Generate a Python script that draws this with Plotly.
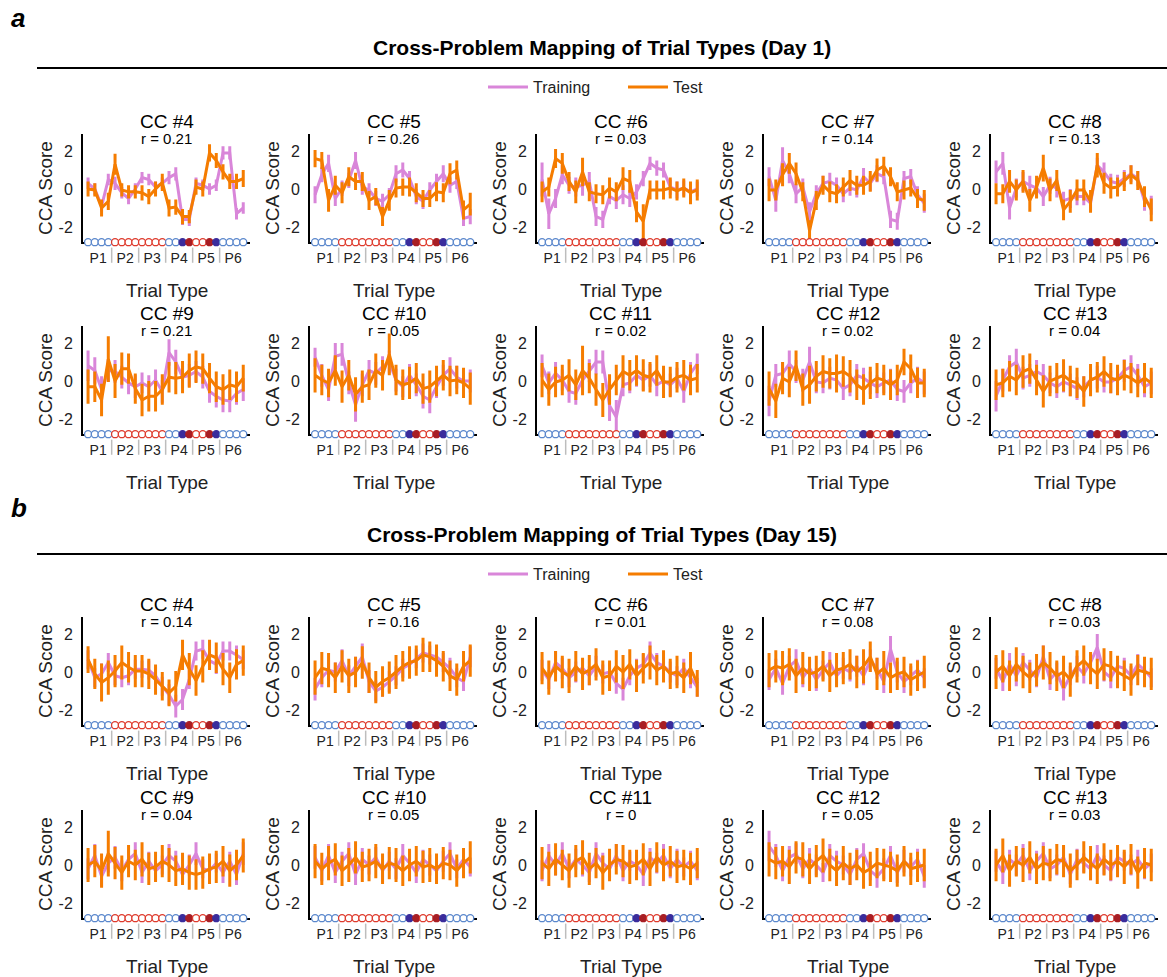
import plotly.graph_objects as go

# ---------------- data ----------------
TRIAL_POS = [1, 2, 3, 4, 5, 6, 7, 8, 9, 10, 11, 12, 13, 14, 15, 16, 17, 18, 19, 20, 21, 22, 23, 24]
TRIAL_KIND = ['bo', 'bo', 'bo', 'bo', 'ro', 'ro', 'ro', 'ro', 'ro', 'ro', 'ro', 'ro',
              'bo', 'bo', 'bf', 'rf', 'ro', 'ro', 'rf', 'bf', 'bo', 'bo', 'bo', 'bo']
PROBLEM_LABELS = ['P1', 'P2', 'P3', 'P4', 'P5', 'P6']
PROBLEM_SIZES = [4, 4, 4, 4, 4, 4]
Y_TICKS = [-2, 0, 2]
Y_TICK_TEXT = ['-2', '0', '2']
Y_RANGE = [-2.8, 2.9]
X_RANGE = [0.25, 25.0]

SECTION_LETTERS = ['a', 'b']
SECTION_TITLES = ['Cross-Problem Mapping of Trial Types (Day 1)',
                  'Cross-Problem Mapping of Trial Types (Day 15)']
CC_NUMBERS = [4, 5, 6, 7, 8, 9, 10, 11, 12, 13]
R_DAY1 = ['0.21', '0.26', '0.03', '0.14', '0.13', '0.21', '0.05', '0.02', '0.02', '0.04']
R_DAY15 = ['0.14', '0.16', '0.01', '0.08', '0.03', '0.04', '0.05', '0', '0.05', '0.03']

# Day 1
D1_CC4_TRAIN = [0.3, 0.0, -0.9, 0.5, 0.3, -0.2, -0.5, 0.0, 0.6, 0.5, 0.1, 0.3, 0.6, 0.8, -1.6, -1.6, 0.3, 0.2, 0.0, 0.2, 1.9, 1.9, -1.3, -1.0]
D1_CC4_TRAIN_ERR = [0.3, 0.3, 0.3, 0.3, 0.35, 0.3, 0.3, 0.3, 0.3, 0.3, 0.3, 0.3, 0.35, 0.35, 0.3, 0.35, 0.3, 0.3, 0.3, 0.3, 0.35, 0.35, 0.3, 0.3]
D1_CC4_TEST = [0.0, -0.05, -1.0, -0.65, 1.3, -0.05, -0.15, -0.15, -0.2, -0.4, 0.0, 0.35, -1.0, -0.95, -1.45, -1.45, 0.1, 0.0, 1.9, 1.5, 0.9, 0.4, 0.4, 0.55]
D1_CC4_TEST_ERR = [0.4, 0.35, 0.45, 0.45, 0.55, 0.35, 0.35, 0.35, 0.4, 0.4, 0.4, 0.45, 0.45, 0.4, 0.4, 0.35, 0.4, 0.4, 0.45, 0.4, 0.4, 0.4, 0.4, 0.45]

D1_CC5_TRAIN = [-0.3, 0.75, 1.35, -0.5, 0.05, 0.45, 1.5, 0.1, -0.05, -0.5, -0.65, -0.3, 0.8, 1.0, 0.55, -0.4, -0.65, -0.05, 0.4, 0.8, 0.2, 0.4, -1.55, -1.45]
D1_CC5_TRAIN_ERR = [0.45, 0.4, 0.45, 0.4, 0.4, 0.4, 0.45, 0.4, 0.35, 0.4, 0.4, 0.35, 0.45, 0.4, 0.4, 0.4, 0.4, 0.4, 0.4, 0.45, 0.4, 0.4, 0.4, 0.4]
D1_CC5_TEST = [1.6, 1.5, -0.6, 0.2, -0.2, 0.65, 0.4, 0.4, -0.6, -0.4, -1.45, -0.6, 0.05, 0.1, 0.1, -0.2, -0.5, -0.5, -0.15, -0.2, 0.8, 1.0, -1.1, -0.8]
D1_CC5_TEST_ERR = [0.45, 0.45, 0.6, 0.5, 0.55, 0.5, 0.45, 0.5, 0.5, 0.45, 0.5, 0.55, 0.5, 0.45, 0.5, 0.5, 0.45, 0.45, 0.5, 0.5, 0.55, 0.5, 0.5, 0.6]

D1_CC6_TRAIN = [0.5, -1.3, -0.5, 0.75, 0.2, 0.1, 0.2, 0.4, -1.45, -1.6, -0.4, -0.6, -0.3, -0.5, -0.15, 0.55, 1.35, 1.1, 1.0, 0.1, -0.05, 0.05, -0.15, 0.0]
D1_CC6_TRAIN_ERR = [0.9, 0.8, 0.5, 0.5, 0.45, 0.5, 0.55, 0.5, 0.5, 0.45, 0.4, 0.45, 0.5, 0.45, 0.4, 0.4, 0.35, 0.4, 0.4, 0.4, 0.45, 0.4, 0.45, 0.4]
D1_CC6_TEST = [-0.15, 0.1, 1.6, 1.35, 0.4, -0.15, 0.9, -0.15, -0.25, -0.3, 0.05, -0.15, 0.55, 0.4, -1.2, -1.7, -0.05, -0.05, -0.05, 0.05, -0.1, 0.05, -0.2, -0.05]
D1_CC6_TEST_ERR = [0.55, 0.5, 0.5, 0.55, 0.5, 0.6, 0.75, 0.5, 0.5, 0.5, 0.55, 0.5, 0.6, 0.6, 0.55, 0.9, 0.5, 0.5, 0.5, 0.55, 0.5, 0.5, 0.6, 0.55]

D1_CC7_TRAIN = [0.65, -0.6, 1.5, 0.8, -0.25, 0.1, -1.2, -0.25, 0.3, 0.4, 0.2, -0.25, 0.05, -0.05, 0.65, 0.3, 0.8, 0.65, -1.6, -1.7, 0.55, 0.65, -0.3, -0.75]
D1_CC7_TRAIN_ERR = [0.5, 0.6, 0.7, 0.5, 0.5, 0.45, 0.5, 0.45, 0.4, 0.45, 0.4, 0.45, 0.4, 0.4, 0.45, 0.4, 0.45, 0.4, 0.45, 0.45, 0.4, 0.4, 0.45, 0.5]
D1_CC7_TEST = [-0.05, -0.05, 0.75, 1.35, 0.8, -0.15, -2.2, -0.6, 0.2, -0.15, -0.25, 0.1, 0.45, 0.2, 0.2, 0.4, 1.0, 1.2, 0.65, -0.15, -0.05, 0.05, -0.5, -0.6]
D1_CC7_TEST_ERR = [0.6, 0.55, 0.6, 0.55, 0.6, 0.5, 0.55, 0.5, 0.5, 0.55, 0.5, 0.5, 0.55, 0.5, 0.5, 0.55, 0.6, 0.5, 0.5, 0.5, 0.5, 0.45, 0.5, 0.55]

D1_CC8_TRAIN = [0.9, 1.35, -1.0, 0.05, 0.4, 0.2, 0.05, -0.4, 0.2, 0.05, -0.6, -0.5, -0.4, -0.4, -0.75, 1.25, 0.9, 0.4, 0.3, 0.55, 0.8, 0.55, -0.65, -0.85]
D1_CC8_TRAIN_ERR = [0.6, 0.6, 0.6, 0.5, 0.5, 0.5, 0.5, 0.5, 0.45, 0.5, 0.45, 0.5, 0.45, 0.45, 0.45, 0.4, 0.5, 0.4, 0.45, 0.45, 0.45, 0.4, 0.5, 0.5]
D1_CC8_TEST = [-0.25, -0.25, 0.4, -0.05, 0.4, -0.6, 0.1, 1.1, -0.05, 0.45, -1.1, -0.65, -0.05, -0.05, -0.65, 1.25, 0.3, 0.05, 0.1, 0.4, 0.75, 0.45, -0.4, -1.1]
D1_CC8_TEST_ERR = [0.55, 0.5, 0.6, 0.55, 0.6, 0.6, 0.6, 0.7, 0.6, 0.55, 0.55, 0.6, 0.55, 0.55, 0.6, 0.65, 0.55, 0.55, 0.5, 0.5, 0.5, 0.5, 0.55, 0.6]

D1_CC9_TRAIN = [0.8, 0.55, -0.45, 0.55, 0.5, 0.2, -0.1, -0.3, -0.1, -0.3, 0.05, -0.55, 1.5, 1.0, 0.2, 0.3, 0.5, 0.2, -0.55, -0.8, -1.0, -1.05, -0.65, -0.45]
D1_CC9_TRAIN_ERR = [0.8, 0.7, 0.7, 0.6, 0.6, 0.6, 0.6, 0.6, 0.55, 0.6, 0.55, 0.6, 0.7, 0.65, 0.6, 0.6, 0.55, 0.6, 0.6, 0.6, 0.65, 0.6, 0.6, 0.6]
D1_CC9_TEST = [-0.3, -0.3, -1.0, 1.15, 0.0, 0.65, 0.65, -0.4, -1.0, -0.8, -0.8, -0.45, 0.2, 0.15, 0.2, 0.55, 0.75, 0.65, 0.15, -0.3, -0.45, -0.2, -0.3, 0.15]
D1_CC9_TEST_ERR = [0.9, 0.8, 0.85, 1.2, 0.9, 0.85, 0.8, 0.8, 0.85, 0.8, 0.8, 0.8, 0.8, 0.85, 0.85, 0.9, 0.85, 0.8, 0.8, 0.8, 0.8, 0.8, 0.8, 0.7]

D1_CC10_TRAIN = [1.25, 0.3, -0.45, 1.3, 1.4, -0.1, -1.25, -0.2, 0.55, 0.4, 0.75, 1.0, 0.05, -0.3, 0.3, -0.2, -0.8, -1.0, -0.3, 0.3, 0.65, 0.2, 0.0, 0.0]
D1_CC10_TRAIN_ERR = [0.5, 0.6, 0.6, 0.7, 0.6, 0.6, 0.9, 0.6, 0.55, 0.6, 0.55, 0.6, 0.6, 0.55, 0.6, 0.6, 0.65, 0.7, 0.6, 0.55, 0.6, 0.6, 0.55, 0.6]
D1_CC10_TEST = [0.3, 0.05, -0.1, 0.55, -0.3, 0.3, -0.7, -0.3, -0.2, 0.55, 0.3, 1.4, 0.05, -0.2, -0.1, 0.15, -0.4, -0.3, 0.0, 0.3, 0.0, 0.05, -0.1, -0.4]
D1_CC10_TEST_ERR = [0.9, 0.8, 0.75, 0.8, 0.85, 0.8, 0.9, 0.85, 0.8, 0.9, 0.8, 1.1, 0.8, 0.8, 0.85, 0.8, 0.8, 0.85, 0.8, 0.8, 0.8, 0.75, 0.8, 0.85]

D1_CC11_TRAIN = [0.8, -0.1, 0.4, 0.05, -0.55, -0.65, 0.05, 0.55, 1.0, 1.0, -1.3, -1.9, -0.2, -0.1, 0.3, 0.05, 0.3, -0.2, 0.0, -0.2, 0.15, -0.55, 0.4, 0.9]
D1_CC11_TRAIN_ERR = [0.6, 0.6, 0.6, 0.55, 0.6, 0.6, 0.55, 0.6, 0.65, 0.6, 0.8, 0.9, 0.6, 0.55, 0.6, 0.55, 0.6, 0.6, 0.55, 0.6, 0.55, 0.6, 0.6, 0.55]
D1_CC11_TEST = [0.05, -0.45, -0.05, 0.05, 0.3, -0.2, 0.55, 0.15, -0.45, -1.0, -0.45, 0.05, 0.5, 0.3, 0.55, 0.3, 0.2, 0.55, -0.05, -0.05, 0.2, 0.3, 0.05, 0.15]
D1_CC11_TEST_ERR = [0.9, 0.85, 0.8, 0.8, 0.85, 0.8, 1.3, 0.8, 0.85, 0.9, 0.8, 0.8, 0.85, 0.8, 0.8, 0.85, 0.8, 0.8, 0.85, 0.8, 0.8, 0.8, 0.8, 0.75]

D1_CC12_TRAIN = [-1.05, 0.3, 0.4, 0.9, 0.5, 0.05, 1.0, -0.05, -0.1, 0.15, 0.05, -0.4, -0.2, 0.3, 0.15, -0.1, -0.3, -0.1, 0.05, -0.45, -0.55, -0.1, 0.15, -0.1]
D1_CC12_TRAIN_ERR = [0.8, 0.6, 0.6, 0.7, 0.6, 0.6, 0.8, 0.6, 0.55, 0.6, 0.55, 0.6, 0.6, 0.6, 0.55, 0.6, 0.6, 0.55, 0.6, 0.6, 0.6, 0.55, 0.6, 0.6]
D1_CC12_TEST = [-0.4, -1.05, 0.15, -0.05, 0.8, -0.45, -0.2, 0.25, 0.5, 0.4, 0.4, 0.5, 0.25, -0.2, -0.45, -0.1, 0.15, 0.05, -0.2, 0.05, 1.0, 0.65, -0.1, -0.1]
D1_CC12_TEST_ERR = [0.9, 0.9, 0.85, 0.8, 0.8, 0.85, 1.0, 0.8, 0.85, 0.8, 1.0, 0.8, 0.85, 0.8, 0.8, 0.85, 0.8, 0.8, 0.8, 0.8, 0.7, 0.75, 0.8, 0.75]

D1_CC13_TRAIN = [-0.8, 0.05, 0.75, 1.0, 0.15, 0.3, 0.5, 0.3, -0.1, -0.3, -0.05, -0.2, -0.4, -0.3, 0.05, 0.2, -0.05, -0.05, 0.15, 0.55, 0.75, 0.3, -0.3, -0.1]
D1_CC13_TRAIN_ERR = [0.8, 0.6, 0.6, 0.7, 0.6, 0.6, 0.6, 0.6, 0.55, 0.6, 0.55, 0.6, 0.6, 0.55, 0.6, 0.6, 0.55, 0.6, 0.6, 0.6, 0.6, 0.6, 0.55, 0.6]
D1_CC13_TEST = [-0.2, -0.1, 0.25, 0.05, 0.5, 0.65, 0.05, -0.55, 0.0, 0.15, 0.3, 0.0, -0.1, -0.55, 0.05, 0.2, 0.5, 0.15, 0.05, 0.3, 0.15, -0.1, 0.15, -0.1]
D1_CC13_TEST_ERR = [0.8, 0.75, 0.8, 0.8, 0.85, 0.8, 0.8, 0.85, 0.8, 0.8, 0.85, 0.8, 0.8, 0.8, 0.85, 0.8, 0.8, 0.8, 0.8, 0.8, 0.8, 0.75, 0.8, 0.8]

# Day 15
D15_CC4_TRAIN = [0.65, -0.3, -0.1, 0.5, -0.2, -0.3, -0.2, 0.15, 0.15, 0.1, -0.2, -0.75, -1.2, -1.8, -1.45, -0.4, 1.1, 1.2, 0.6, 0.4, 1.1, 1.1, 0.9, 0.65]
D15_CC4_TRAIN_ERR = [0.5, 0.5, 0.55, 0.5, 0.5, 0.5, 0.5, 0.5, 0.45, 0.5, 0.5, 0.5, 0.55, 0.6, 0.55, 0.5, 0.5, 0.5, 0.5, 0.5, 0.5, 0.5, 0.5, 0.5]
D15_CC4_TEST = [0.65, -0.1, -0.55, -0.3, 0.05, 0.5, 0.25, 0.05, 0.05, -0.1, -0.4, -0.75, -1.1, -0.75, 0.9, 0.15, -0.45, 0.3, 0.9, 0.75, 0.15, -0.3, 0.4, 0.6]
D15_CC4_TEST_ERR = [0.7, 0.8, 1.0, 0.9, 0.85, 0.9, 0.8, 0.85, 0.85, 0.8, 0.8, 0.75, 0.7, 0.8, 0.8, 0.85, 0.8, 0.85, 0.8, 0.8, 0.85, 0.8, 0.8, 0.8]

D15_CC5_TRAIN = [-0.9, -0.3, 0.1, 0.0, 0.6, -0.2, 0.3, 0.8, -0.5, -1.0, -0.8, -0.5, -0.2, 0.2, 0.4, 0.7, 1.0, 0.9, 0.8, 0.5, 0.2, -0.3, -0.5, 0.8]
D15_CC5_TRAIN_ERR = [0.6, 0.5, 0.55, 0.5, 0.6, 0.55, 0.5, 0.7, 0.6, 0.55, 0.5, 0.55, 0.5, 0.5, 0.55, 0.5, 0.5, 0.5, 0.55, 0.5, 0.55, 0.5, 0.5, 0.55]
D15_CC5_TEST = [-0.3, 0.2, 0.1, -0.3, 0.3, -0.2, 0.0, 0.5, -0.3, -0.8, -0.5, -0.3, 0.0, 0.3, 0.5, 0.6, 0.9, 0.8, 0.6, 0.3, -0.2, -0.4, 0.3, 0.6]
D15_CC5_TEST_ERR = [0.9, 0.85, 0.9, 0.8, 0.85, 0.9, 0.8, 0.85, 0.8, 0.85, 0.8, 0.85, 0.9, 0.8, 0.85, 0.8, 0.9, 0.8, 0.85, 0.8, 0.8, 0.85, 0.8, 0.85]

D15_CC6_TRAIN = [0.1, -0.4, 0.5, 0.2, -0.3, 0.0, 0.2, -0.2, 0.3, -0.1, 0.0, -0.6, -0.9, -0.2, 0.2, 0.4, 1.0, 0.5, 0.3, 0.0, -0.2, 0.2, -0.3, -0.8]
D15_CC6_TRAIN_ERR = [0.55, 0.5, 0.6, 0.55, 0.5, 0.55, 0.5, 0.5, 0.55, 0.5, 0.5, 0.55, 0.6, 0.5, 0.5, 0.55, 0.6, 0.5, 0.5, 0.55, 0.5, 0.5, 0.55, 0.5]
D15_CC6_TEST = [0.2, -0.3, 0.3, 0.0, -0.2, 0.3, -0.1, 0.1, 0.4, -0.3, -0.2, 0.3, 0.0, 0.4, -0.2, 0.2, 0.5, 0.1, 0.3, -0.1, 0.0, -0.3, 0.2, -0.6]
D15_CC6_TEST_ERR = [0.85, 0.9, 0.8, 0.85, 0.9, 0.8, 0.85, 0.8, 0.85, 0.9, 0.8, 0.85, 0.9, 0.8, 0.85, 0.8, 0.9, 0.8, 0.85, 0.8, 0.85, 0.8, 0.85, 0.7]

D15_CC7_TRAIN = [-0.4, 0.2, -0.6, 0.3, 0.6, -0.3, 0.2, -0.4, 0.1, 0.5, -0.2, 0.2, 0.0, 0.3, -0.2, 0.6, 0.2, -0.5, 1.2, 0.0, -0.5, -0.2, 0.1, -0.3]
D15_CC7_TRAIN_ERR = [0.55, 0.5, 0.6, 0.55, 0.6, 0.5, 0.55, 0.6, 0.5, 0.55, 0.5, 0.55, 0.5, 0.55, 0.5, 0.6, 0.55, 0.6, 0.7, 0.55, 0.6, 0.5, 0.55, 0.5]
D15_CC7_TEST = [0.1, 0.3, 0.2, 0.4, -0.2, 0.2, -0.1, 0.0, 0.3, -0.2, 0.1, 0.2, 0.4, 0.0, 0.3, 0.8, -0.1, 0.2, -0.3, -0.1, 0.0, -0.4, -0.2, 0.0]
D15_CC7_TEST_ERR = [0.9, 0.85, 0.9, 0.85, 0.9, 0.85, 0.9, 0.85, 0.8, 0.85, 0.9, 0.85, 0.8, 0.85, 0.9, 0.8, 0.85, 0.9, 0.8, 0.85, 0.8, 0.85, 0.8, 0.85]

D15_CC8_TRAIN = [0.2, -0.5, 0.4, -0.2, 0.5, 0.1, -0.3, 0.8, -0.4, 0.0, -0.9, -0.2, 0.3, -0.1, 0.5, 1.3, 0.0, -0.3, 0.3, 0.2, -0.2, 0.4, 0.1, -0.3]
D15_CC8_TRAIN_ERR = [0.55, 0.5, 0.6, 0.55, 0.5, 0.55, 0.5, 0.6, 0.55, 0.5, 0.6, 0.5, 0.55, 0.5, 0.55, 0.7, 0.5, 0.55, 0.5, 0.55, 0.5, 0.55, 0.5, 0.5]
D15_CC8_TEST = [0.0, 0.3, -0.2, 0.4, 0.0, -0.3, 0.1, 0.5, 0.2, -0.2, 0.0, -0.4, 0.3, 0.6, 0.2, -0.1, 0.4, 0.3, 0.0, -0.2, -0.4, 0.1, 0.0, -0.1]
D15_CC8_TEST_ERR = [0.9, 0.85, 0.8, 0.9, 0.85, 0.8, 0.85, 0.9, 0.85, 0.8, 0.85, 0.9, 0.85, 0.8, 0.85, 0.8, 0.85, 0.8, 0.85, 0.8, 0.85, 0.8, 0.8, 0.85]

D15_CC9_TRAIN = [-0.2, 0.5, -0.6, 0.1, 0.4, -0.3, 0.3, 0.6, -0.4, 0.2, -0.3, 0.0, 0.5, 0.2, -0.5, 0.0, 0.6, -0.2, -0.3, 0.1, -0.4, 0.2, -0.5, 0.6]
D15_CC9_TRAIN_ERR = [0.55, 0.6, 0.55, 0.5, 0.6, 0.55, 0.5, 0.6, 0.55, 0.5, 0.55, 0.5, 0.6, 0.55, 0.5, 0.55, 0.6, 0.5, 0.55, 0.5, 0.55, 0.5, 0.55, 0.6]
D15_CC9_TEST = [0.0, 0.2, -0.3, 0.6, 0.1, -0.4, 0.2, 0.0, 0.3, -0.2, -0.1, 0.2, 0.0, -0.3, -0.2, -0.4, -0.5, -0.4, -0.2, -0.1, 0.2, -0.3, 0.0, 0.5]
D15_CC9_TEST_ERR = [0.9, 0.85, 0.9, 1.2, 0.85, 0.9, 0.85, 0.8, 0.9, 0.85, 0.8, 0.85, 0.9, 0.8, 0.85, 0.9, 0.8, 0.85, 0.8, 0.85, 0.8, 0.85, 0.8, 0.9]

D15_CC10_TRAIN = [0.4, -0.3, 0.5, -0.4, 0.2, 0.6, -0.5, 0.3, 0.0, 0.4, -0.3, 0.2, -0.2, 0.5, 0.1, -0.4, 0.3, 0.0, -0.3, 0.2, 0.6, -0.2, 0.3, -0.1]
D15_CC10_TRAIN_ERR = [0.6, 0.55, 0.6, 0.55, 0.5, 0.6, 0.55, 0.6, 0.5, 0.55, 0.6, 0.5, 0.55, 0.6, 0.5, 0.55, 0.5, 0.55, 0.5, 0.55, 0.6, 0.5, 0.55, 0.5]
D15_CC10_TEST = [0.2, -0.2, 0.1, 0.3, -0.3, 0.0, 0.4, -0.1, 0.0, 0.2, -0.2, 0.1, 0.0, -0.3, 0.0, 0.2, -0.1, 0.0, -0.2, 0.1, 0.0, -0.3, 0.1, 0.4]
D15_CC10_TEST_ERR = [0.9, 0.85, 0.9, 0.85, 0.8, 0.9, 0.85, 0.8, 0.85, 0.9, 0.8, 0.85, 0.9, 0.8, 0.85, 0.8, 0.85, 0.9, 0.8, 0.85, 0.8, 0.85, 0.8, 0.85]

D15_CC11_TRAIN = [-0.3, 0.5, 0.0, 0.6, -0.2, 0.3, 0.0, -0.4, 0.6, 0.1, -0.2, 0.5, -0.3, 0.2, 0.0, -0.5, 0.4, 0.1, 0.5, -0.2, 0.3, -0.1, 0.2, -0.3]
D15_CC11_TRAIN_ERR = [0.55, 0.6, 0.55, 0.6, 0.5, 0.55, 0.6, 0.5, 0.6, 0.55, 0.5, 0.6, 0.55, 0.5, 0.55, 0.6, 0.5, 0.55, 0.6, 0.5, 0.55, 0.5, 0.55, 0.5]
D15_CC11_TEST = [0.1, -0.2, 0.3, 0.0, -0.3, 0.2, 0.4, -0.2, 0.1, -0.4, 0.0, 0.3, 0.2, -0.1, 0.0, 0.3, -0.2, 0.4, 0.0, 0.2, -0.1, 0.0, -0.2, 0.1]
D15_CC11_TEST_ERR = [0.85, 0.9, 0.85, 0.8, 0.9, 0.85, 0.9, 0.85, 0.8, 0.9, 0.85, 0.8, 0.85, 0.9, 0.8, 0.85, 0.9, 0.8, 0.85, 0.8, 0.85, 0.8, 0.85, 0.8]

D15_CC12_TRAIN = [1.0, 0.5, -0.3, 0.4, 0.6, -0.2, 0.3, 0.0, -0.4, 0.5, 0.2, 0.0, -0.5, 0.3, 0.6, -0.3, -0.6, -0.2, 0.5, -0.4, 0.2, -0.1, 0.3, -0.6]
D15_CC12_TRAIN_ERR = [0.8, 0.6, 0.55, 0.6, 0.55, 0.5, 0.6, 0.55, 0.5, 0.6, 0.55, 0.5, 0.55, 0.6, 0.55, 0.5, 0.6, 0.55, 0.5, 0.55, 0.6, 0.5, 0.55, 0.6]
D15_CC12_TEST = [0.3, 0.1, 0.2, -0.1, 0.4, 0.3, -0.2, 0.2, 0.5, 0.0, -0.3, 0.1, -0.2, 0.0, -0.4, -0.2, 0.1, 0.0, -0.1, -0.3, 0.2, -0.2, -0.1, 0.0]
D15_CC12_TEST_ERR = [0.9, 0.85, 0.8, 0.9, 0.85, 0.9, 0.8, 0.85, 0.9, 0.85, 0.8, 0.9, 0.85, 0.8, 0.85, 0.9, 0.8, 0.85, 0.8, 0.85, 0.8, 0.85, 0.8, 0.85]

D15_CC13_TRAIN = [0.2, -0.4, 0.3, 0.0, 0.5, -0.3, 0.2, 0.6, -0.2, 0.0, 0.4, -0.5, 0.3, 0.1, -0.2, 0.5, 0.0, -0.3, 0.4, 0.2, 0.0, 0.3, -0.2, 0.1]
D15_CC13_TRAIN_ERR = [0.55, 0.6, 0.5, 0.55, 0.6, 0.5, 0.55, 0.6, 0.5, 0.55, 0.6, 0.5, 0.55, 0.5, 0.6, 0.55, 0.5, 0.55, 0.6, 0.5, 0.55, 0.5, 0.55, 0.5]
D15_CC13_TEST = [0.0, 0.5, -0.3, 0.2, 0.0, 0.4, -0.2, 0.1, 0.0, 0.3, 0.2, -0.3, 0.0, 0.4, 0.1, -0.2, 0.3, 0.0, 0.2, -0.1, 0.3, -0.4, 0.1, 0.0]
D15_CC13_TEST_ERR = [0.85, 0.9, 0.85, 0.8, 0.9, 0.85, 0.8, 0.9, 0.85, 0.8, 0.85, 0.9, 0.8, 0.85, 0.9, 0.8, 0.85, 0.8, 0.85, 0.9, 0.8, 0.85, 0.8, 0.85]

# ---------------- style / layout ----------------
W, H = 1167, 977
FONT = 'Liberation Sans, Arial, Helvetica, sans-serif'
TRAIN_COLOR = '#D986D9'
TEST_COLOR = '#F57C00'
KIND_COLOR = {'bo': '#5A87CC', 'ro': '#DE3A2C', 'bf': '#3A2C9C', 'rf': '#A81E24'}
KIND_FILL = {'bo': 'white', 'ro': 'white', 'bf': '#3A2C9C', 'rf': '#A81E24'}
COL_LEFT_PX = [83, 310, 537, 764, 991]
AXIS_W_PX = 167
ROW_ZERO_PX = [[189, 381], [672, 865]]
PPU = 19.0
SECTION_TITLE_PX = [47, 534]
SECTION_LINE_PX = [68, 554]
LEGEND_PX = [87, 574]
LETTER_PX = [18, 508]

SECTIONS = [
    [(D1_CC4_TRAIN, D1_CC4_TRAIN_ERR, D1_CC4_TEST, D1_CC4_TEST_ERR),
     (D1_CC5_TRAIN, D1_CC5_TRAIN_ERR, D1_CC5_TEST, D1_CC5_TEST_ERR),
     (D1_CC6_TRAIN, D1_CC6_TRAIN_ERR, D1_CC6_TEST, D1_CC6_TEST_ERR),
     (D1_CC7_TRAIN, D1_CC7_TRAIN_ERR, D1_CC7_TEST, D1_CC7_TEST_ERR),
     (D1_CC8_TRAIN, D1_CC8_TRAIN_ERR, D1_CC8_TEST, D1_CC8_TEST_ERR),
     (D1_CC9_TRAIN, D1_CC9_TRAIN_ERR, D1_CC9_TEST, D1_CC9_TEST_ERR),
     (D1_CC10_TRAIN, D1_CC10_TRAIN_ERR, D1_CC10_TEST, D1_CC10_TEST_ERR),
     (D1_CC11_TRAIN, D1_CC11_TRAIN_ERR, D1_CC11_TEST, D1_CC11_TEST_ERR),
     (D1_CC12_TRAIN, D1_CC12_TRAIN_ERR, D1_CC12_TEST, D1_CC12_TEST_ERR),
     (D1_CC13_TRAIN, D1_CC13_TRAIN_ERR, D1_CC13_TEST, D1_CC13_TEST_ERR)],
    [(D15_CC4_TRAIN, D15_CC4_TRAIN_ERR, D15_CC4_TEST, D15_CC4_TEST_ERR),
     (D15_CC5_TRAIN, D15_CC5_TRAIN_ERR, D15_CC5_TEST, D15_CC5_TEST_ERR),
     (D15_CC6_TRAIN, D15_CC6_TRAIN_ERR, D15_CC6_TEST, D15_CC6_TEST_ERR),
     (D15_CC7_TRAIN, D15_CC7_TRAIN_ERR, D15_CC7_TEST, D15_CC7_TEST_ERR),
     (D15_CC8_TRAIN, D15_CC8_TRAIN_ERR, D15_CC8_TEST, D15_CC8_TEST_ERR),
     (D15_CC9_TRAIN, D15_CC9_TRAIN_ERR, D15_CC9_TEST, D15_CC9_TEST_ERR),
     (D15_CC10_TRAIN, D15_CC10_TRAIN_ERR, D15_CC10_TEST, D15_CC10_TEST_ERR),
     (D15_CC11_TRAIN, D15_CC11_TRAIN_ERR, D15_CC11_TEST, D15_CC11_TEST_ERR),
     (D15_CC12_TRAIN, D15_CC12_TRAIN_ERR, D15_CC12_TEST, D15_CC12_TEST_ERR),
     (D15_CC13_TRAIN, D15_CC13_TRAIN_ERR, D15_CC13_TEST, D15_CC13_TEST_ERR)],
]
R_VALUES = [R_DAY1, R_DAY15]


def fx(px):
    return px / W


def fy(py):
    return 1 - py / H


# problem label centres and separators
centers, bounds = [], []
start = TRIAL_POS[0]
for n in PROBLEM_SIZES:
    centers.append(start + (n - 1) / 2)
    bounds.append(start + n - 0.5)
    start += n
bounds = bounds[:-1]

fig = go.Figure()
annotations, shapes = [], []
layout_axes = {}
k = 0
for s, panels in enumerate(SECTIONS):
    legend_name = 'legend' if s == 0 else 'legend2'
    for i, (tr, tr_err, te, te_err) in enumerate(panels):
        k += 1
        row, col = divmod(i, 5)
        left = COL_LEFT_PX[col]
        zero = ROW_ZERO_PX[s][row]
        top = zero - Y_RANGE[1] * PPU
        bottom = zero - Y_RANGE[0] * PPU
        xa = 'x' if k == 1 else f'x{k}'
        ya = 'y' if k == 1 else f'y{k}'
        show = (i == 0)
        fig.add_trace(go.Scatter(
            x=TRIAL_POS, y=tr, mode='lines', name='Training',
            line=dict(color=TRAIN_COLOR, width=3),
            error_y=dict(type='data', array=tr_err, visible=True, color=TRAIN_COLOR, thickness=3, width=0),
            xaxis=xa, yaxis=ya, showlegend=show, legend=legend_name, hoverinfo='skip'))
        fig.add_trace(go.Scatter(
            x=TRIAL_POS, y=te, mode='lines', name='Test',
            line=dict(color=TEST_COLOR, width=3),
            error_y=dict(type='data', array=te_err, visible=True, color=TEST_COLOR, thickness=3, width=0),
            xaxis=xa, yaxis=ya, showlegend=show, legend=legend_name, hoverinfo='skip'))
        fig.add_trace(go.Scatter(
            x=TRIAL_POS, y=[Y_RANGE[0]] * len(TRIAL_POS), mode='markers',
            marker=dict(symbol='circle',
                        color=[KIND_FILL[t] for t in TRIAL_KIND],
                        size=7, line=dict(width=1.3, color=[KIND_COLOR[t] for t in TRIAL_KIND])),
            cliponaxis=False, showlegend=False, xaxis=xa, yaxis=ya, hoverinfo='skip'))

        xkey = 'xaxis' if k == 1 else f'xaxis{k}'
        ykey = 'yaxis' if k == 1 else f'yaxis{k}'
        layout_axes[xkey] = dict(
            domain=[fx(left), fx(left + AXIS_W_PX)], range=X_RANGE, anchor=ya,
            showline=True, linecolor='black', linewidth=2, showgrid=False, zeroline=False,
            tickvals=centers, ticktext=PROBLEM_LABELS, ticks='', ticklabelstandoff=2,
            tickfont=dict(size=14, color='#222'), fixedrange=True, layer='below traces')
        layout_axes[ykey] = dict(
            domain=[fy(bottom), fy(top)], range=Y_RANGE, anchor=xa,
            showline=True, linecolor='black', linewidth=2, showgrid=False, zeroline=False,
            tickvals=Y_TICKS, ticktext=Y_TICK_TEXT, ticks='', ticklabelstandoff=5,
            tickfont=dict(size=16, color='#222'), fixedrange=True, layer='below traces')

        for b in bounds:
            shapes.append(dict(type='line', xref=xa, yref=f'{ya} domain', x0=b, x1=b,
                               y0=-0.05, y1=-0.19, line=dict(color='#BDBDBD', width=1.5)))
        cx = fx(left + AXIS_W_PX / 2)
        annotations.append(dict(text=f'CC #{CC_NUMBERS[i]}', x=cx, y=fy(top - 12), xref='paper', yref='paper',
                                showarrow=False, xanchor='center', yanchor='middle',
                                font=dict(size=19, color='black')))
        annotations.append(dict(text=f'r = {R_VALUES[s][i]}', x=cx, y=fy(top + 5), xref='paper', yref='paper',
                                showarrow=False, xanchor='center', yanchor='middle',
                                font=dict(size=15, color='black')))
        annotations.append(dict(text='CCA Score', x=fx(left - 38), y=fy((top + bottom) / 2),
                                xref='paper', yref='paper', showarrow=False, textangle=-90,
                                xanchor='center', yanchor='middle', font=dict(size=19, color='#222')))
        annotations.append(dict(text='Trial Type', x=cx, y=fy(bottom + 48), xref='paper', yref='paper',
                                showarrow=False, xanchor='center', yanchor='middle',
                                font=dict(size=19, color='#222')))

    annotations.append(dict(text=f'<b><i>{SECTION_LETTERS[s]}</i></b>', x=fx(9), y=fy(LETTER_PX[s]),
                            xref='paper', yref='paper', showarrow=False, xanchor='left', yanchor='middle',
                            font=dict(size=26, color='black')))
    annotations.append(dict(text=f'<b>{SECTION_TITLES[s]}</b>', x=fx(602), y=fy(SECTION_TITLE_PX[s]),
                            xref='paper', yref='paper', showarrow=False, xanchor='center', yanchor='middle',
                            font=dict(size=21, color='black')))
    shapes.append(dict(type='line', xref='paper', yref='paper', x0=fx(37), x1=1,
                       y0=fy(SECTION_LINE_PX[s]), y1=fy(SECTION_LINE_PX[s]),
                       line=dict(color='black', width=2)))

legend_common = dict(orientation='h', xanchor='left', yanchor='middle', x=fx(483),
                     bgcolor='rgba(0,0,0,0)', font=dict(size=16, color='#222'),
                     itemwidth=40, entrywidth=85, tracegroupgap=0)
fig.update_layout(
    width=W, height=H, margin=dict(l=0, r=0, t=0, b=0),
    paper_bgcolor='white', plot_bgcolor='white',
    font=dict(family=FONT, color='black'),
    annotations=annotations, shapes=shapes,
    legend=dict(y=fy(LEGEND_PX[0]), **legend_common),
    legend2=dict(y=fy(LEGEND_PX[1]), **legend_common),
    **layout_axes)

fig.write_html('out.html', config={'displayModeBar': False},
               post_script="document.body.style.margin='0';document.body.style.overflow='hidden';")
